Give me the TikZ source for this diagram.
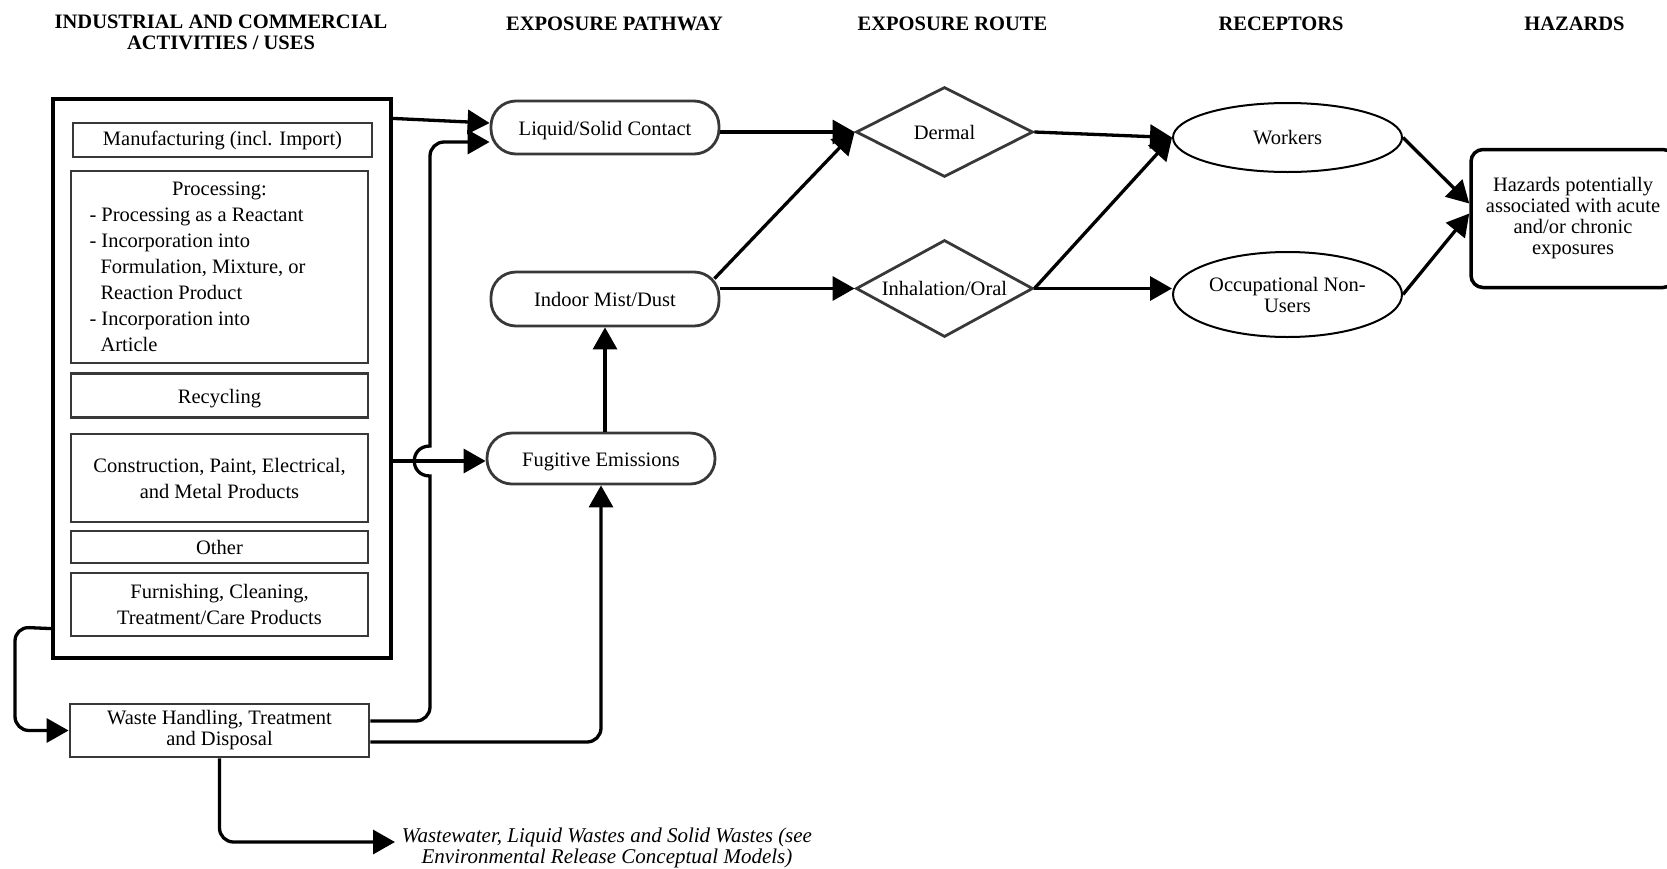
\documentclass[tikz,border=0pt]{standalone}
\usepackage{fontspec}
\setmainfont{Liberation Serif}
\usetikzlibrary{arrows.meta,shapes.geometric}
\definecolor{bord}{HTML}{383838}
\begin{document}
\begin{tikzpicture}[x=1pt,y=-1pt,
  every node/.style={font=\fontsize{20.5}{21}\selectfont, inner sep=0pt, text=black},
  wide/.style={font=\fontsize{20.5}{26}\selectfont},
  lowtext/.style={text height=20pt, text depth=4.5pt},
  gbox/.style={draw=bord, line width=2.8pt, rectangle, align=center},
  pill/.style={draw=bord, line width=2.8pt, rectangle, rounded corners=25pt, minimum width=228pt, align=center},
  dia/.style={draw=bord, line width=2.8pt, diamond, minimum width=177pt},
  ell/.style={draw=black, line width=2pt, ellipse, minimum width=229pt, align=center},
  hdr/.style={font=\fontsize{20.5}{21}\selectfont\bfseries, align=center},
  conn/.style={line width=3.3pt, -{Triangle[length=22pt,width=24pt]}},
  rconn/.style={conn, rounded corners=14pt}
]
\useasboundingbox (0,0) rectangle (1667,868);

% headers
\node[hdr] (h1) at (221,32) {INDUSTRIAL AND COMMERCIAL\\ACTIVITIES / USES};
\node[hdr] (h2) at (614.5,23.4) {EXPOSURE PATHWAY};
\node[hdr] (h3) at (952.5,23.4) {EXPOSURE ROUTE};
\node[hdr] (h4) at (1281,23.4) {RECEPTORS};
\node[hdr] (h5) at (1574.5,23.4) {HAZARDS};

% left column
\node[draw=black, line width=3.2pt, minimum width=338pt, minimum height=559pt] (outer) at (222,378.5) {};
\node[gbox, minimum width=299pt, minimum height=34pt] (manu) at (222.5,140) {Manufacturing (incl. Import)};
\node[gbox, wide, minimum width=297pt, minimum height=192pt] (proc) at (219.5,267) {%
  \begin{minipage}{260pt}\centering Processing:\par\raggedright
  - Processing as a Reactant\\
  - Incorporation into\\
  \hspace*{11pt}Formulation, Mixture, or\\
  \hspace*{11pt}Reaction Product\\
  - Incorporation into\\
  \hspace*{11pt}Article\par\end{minipage}};
\node[gbox, lowtext, minimum width=297pt, minimum height=44pt] (recy) at (219.5,395.5) {Recycling};
\node[gbox, wide, minimum width=297pt, minimum height=88pt] (cons) at (219.5,478) {Construction, Paint, Electrical,\\and Metal Products};
\node[gbox, minimum width=297pt, minimum height=32pt] (other) at (219.5,547) {Other};
\node[gbox, wide, minimum width=297pt, minimum height=63pt] (furn) at (219.5,604.5) {Furnishing, Cleaning,\\Treatment/Care Products};
\node[gbox, minimum width=299pt, minimum height=53pt] (waste) at (219.5,730.5) {Waste Handling, Treatment\\and Disposal};
\node[font=\fontsize{21}{21}\selectfont\itshape, align=center] (ww) at (607,848) {Wastewater, Liquid Wastes and Solid Wastes (see\\Environmental Release Conceptual Models)};
\coordinate (wwtip) at (395,842);

% pathways
\node[pill, lowtext, minimum height=53pt] (liq) at (605,127.5) {Liquid/Solid Contact};
\node[pill, minimum height=54pt] (ind) at (605,299) {Indoor Mist/Dust};
\node[pill, lowtext, minimum height=51pt] (fug) at (601,458.5) {Fugitive Emissions};

% routes
\node[dia, minimum height=90pt, aspect=1.97] (derm) at (944.5,132) {Dermal};
\node[dia, minimum height=97pt, aspect=1.82] (inh) at (944.5,288.5) {Inhalation/Oral};

% receptors
\node[ell, minimum height=69pt] (work) at (1287.5,137.5) {Workers};
\node[ell, minimum height=85pt] (occ) at (1287.5,294.5) {Occupational Non-\\Users};

% hazards (right border falls outside the picture, as in the reference)
\node[draw=black, line width=3.5pt, rounded corners=12pt, minimum width=204pt, minimum height=138pt, align=center] (haz) at (1573,218.5) {Hazards potentially\\associated with acute\\and/or chronic\\exposures};

% connectors
\coordinate (hopc) at (430,461);
\draw[conn] ([yshift=-21pt]outer.north east) -- ([yshift=4.5pt]liq.west);
\draw[conn] ([yshift=9.5pt]waste.east) -- (416,721) .. controls (423.7,721) and (430,714.7) .. (430,707)
  -- (430,476) .. controls (409,476) and (409,446) .. (430,446)
  -- (430,156) .. controls (430,148.3) and (436.3,142) .. (444,142) -- ([yshift=-14.5pt]liq.west);
\draw[conn] (outer.east |- hopc) -- (fug.west |- hopc);
\draw[rconn] ([yshift=-11.5pt]waste.east) -- (fug.south |- 0,742) -- (fug.south);
\draw[conn] (fug.north -| ind.south) -- (ind.south);
\draw[conn] (liq.east |- derm.west) -- (derm.west);
\draw[conn] ([xshift=-6pt,yshift=-8pt]ind.north east) -- (derm.west);
\draw[conn] (ind.east |- inh.west) -- (inh.west);
\draw[conn] (derm.east) -- (work.west);
\draw[conn] (inh.east) -- (work.west);
\draw[conn] (inh.east) -- (inh.east -| occ.west);
\draw[conn] (work.east) -- ([yshift=15pt]haz.west);
\draw[conn] (occ.east) -- ([yshift=5pt]haz.west);
\draw[rconn] ([yshift=31pt]outer.south west) -- (15,627) -- (15,730.5) -- (waste.west);
\draw[rconn] (waste.south) -- (waste.south |- wwtip) -- (wwtip);
\end{tikzpicture}
\end{document}
